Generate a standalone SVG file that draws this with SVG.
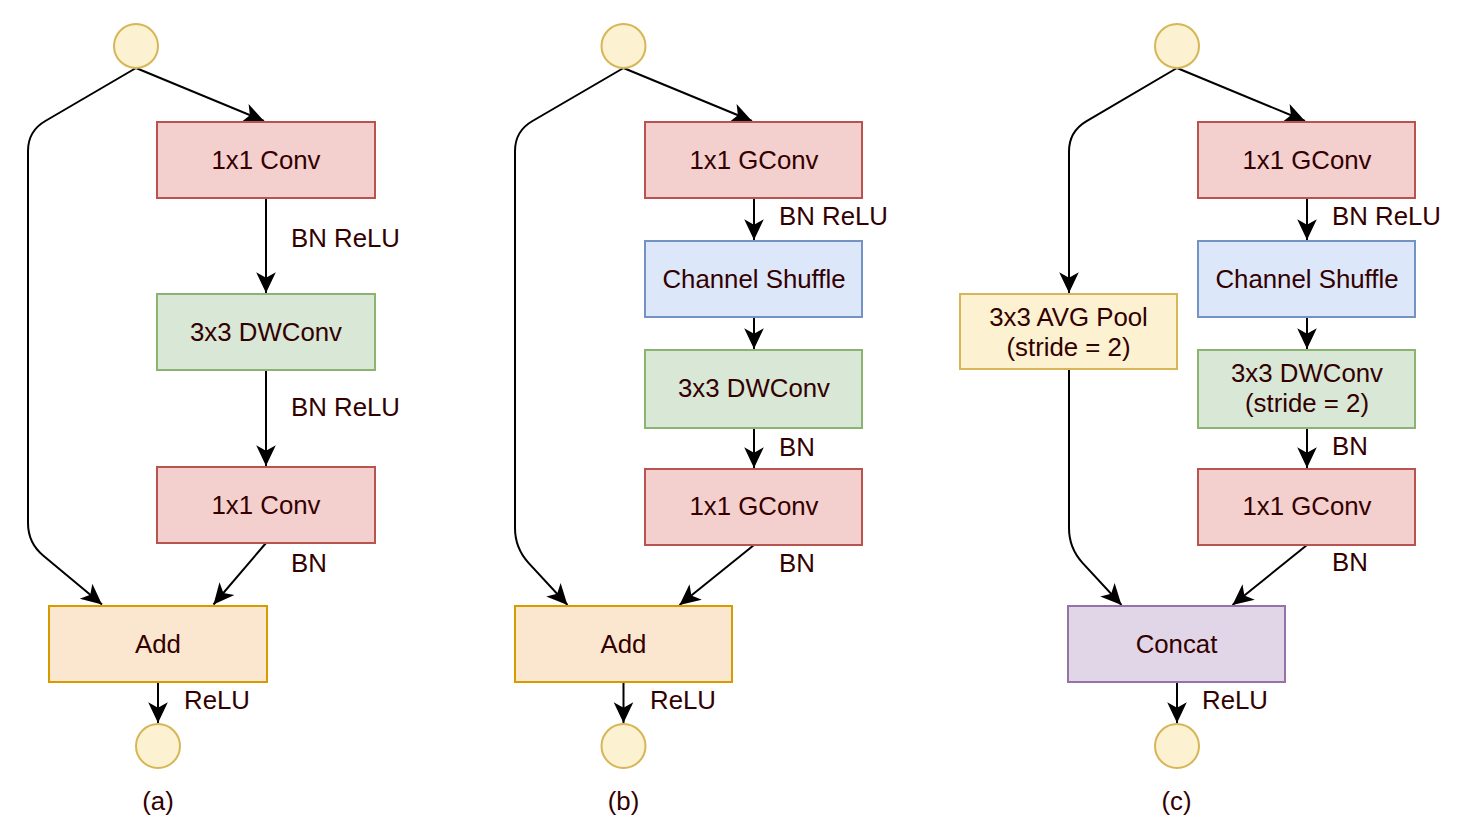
<svg xmlns="http://www.w3.org/2000/svg" width="1470" height="828" viewBox="0 0 1470 828">
<style>
text{font-family:"Liberation Sans",Arial,Helvetica,sans-serif;font-size:25.8px;fill:#330000}
.c{text-anchor:middle}
.red{fill:#f3cfce;stroke:#b85450;stroke-width:2}
.grn{fill:#d8e7d6;stroke:#8ab46f;stroke-width:2}
.blu{fill:#dce7f9;stroke:#7592c4;stroke-width:2}
.org{fill:#fbe6cf;stroke:#d79b00;stroke-width:2}
.yel{fill:#fcf1d0;stroke:#d6b656;stroke-width:2}
.pur{fill:#e0d6e7;stroke:#9673a6;stroke-width:2}
.e{fill:none;stroke:#000;stroke-width:2;marker-end:url(#arr)}
</style>
<defs>
<marker id="arr" markerUnits="userSpaceOnUse" markerWidth="24" markerHeight="24" viewBox="-20 -10 22 20" refX="0" refY="0" orient="auto">
<path d="M0,0 L-19,-9 L-14,0 L-19,9 Z" fill="#000"/>
</marker>
</defs>
<g id="connectors">
<path class="e" d="M136,68 L264,121"/>
<path class="e" d="M136,68 L45.3,121 Q28,131 28,151 L28,523 Q28,543 43.4,555.7 L102,604.5"/>
<path class="e" d="M266,198 L266,293"/>
<path class="e" d="M266,370 L266,466"/>
<path class="e" d="M266,543 L213.5,604.5"/>
<path class="e" d="M158,682 L158,723"/>
<path class="e" d="M623.5,68 L752,121"/>
<path class="e" d="M623.5,68 L532.5,121 Q515,131 515,151 L515,528 Q515,548 528.5,562.8 L567.5,605"/>
<path class="e" d="M754,198 L754,240"/>
<path class="e" d="M754,317 L754,349"/>
<path class="e" d="M754,428 L754,468"/>
<path class="e" d="M754,545 L679.5,605"/>
<path class="e" d="M623.5,682 L623.5,723"/>
<path class="e" d="M1177,68 L1305,121"/>
<path class="e" d="M1177,68 L1086.2,121.3 Q1069,131.5 1069,151.5 L1069,293"/>
<path class="e" d="M1069,369 L1069,528 Q1069,548 1082.5,562.8 L1121.5,605"/>
<path class="e" d="M1307,198 L1307,240"/>
<path class="e" d="M1307,317 L1307,349"/>
<path class="e" d="M1307,428 L1307,468"/>
<path class="e" d="M1307,545 L1232.5,605"/>
<path class="e" d="M1177,682 L1177,723"/>
</g>
<g id="edge-labels">
<text x="291" y="247">BN ReLU</text>
<text x="291" y="416">BN ReLU</text>
<text x="291" y="572">BN</text>
<text x="184" y="709">ReLU</text>
<text x="779" y="225">BN ReLU</text>
<text x="779" y="456">BN</text>
<text x="779" y="572">BN</text>
<text x="650" y="709">ReLU</text>
<text x="1332" y="225">BN ReLU</text>
<text x="1332" y="455">BN</text>
<text x="1332" y="571">BN</text>
<text x="1202" y="709">ReLU</text>
</g>
<g id="a-in"><circle class="yel" cx="136" cy="46" r="22"/></g>
<g id="a-conv1"><rect class="red" x="157" y="122" width="218" height="76"/><text class="c" x="266" y="169">1x1 Conv</text></g>
<g id="a-dwconv"><rect class="grn" x="157" y="294" width="218" height="76"/><text class="c" x="266" y="341">3x3 DWConv</text></g>
<g id="a-conv2"><rect class="red" x="157" y="467" width="218" height="76"/><text class="c" x="266" y="514">1x1 Conv</text></g>
<g id="a-add"><rect class="org" x="49" y="606" width="218" height="76"/><text class="c" x="158" y="653">Add</text></g>
<g id="a-out"><circle class="yel" cx="158" cy="746" r="22"/></g>
<g id="a-label"><text class="c" x="158" y="810">(a)</text></g>
<g id="b-in"><circle class="yel" cx="623.5" cy="46" r="22"/></g>
<g id="b-gconv1"><rect class="red" x="645" y="122" width="217" height="76"/><text class="c" x="754" y="169">1x1 GConv</text></g>
<g id="b-shuffle"><rect class="blu" x="645" y="241" width="217" height="76"/><text class="c" x="754" y="288">Channel Shuffle</text></g>
<g id="b-dwconv"><rect class="grn" x="645" y="350" width="217" height="78"/><text class="c" x="754" y="397">3x3 DWConv</text></g>
<g id="b-gconv2"><rect class="red" x="645" y="469" width="217" height="76"/><text class="c" x="754" y="515">1x1 GConv</text></g>
<g id="b-add"><rect class="org" x="515" y="606" width="217" height="76"/><text class="c" x="623.5" y="653">Add</text></g>
<g id="b-out"><circle class="yel" cx="623.5" cy="746" r="22"/></g>
<g id="b-label"><text class="c" x="623.5" y="810">(b)</text></g>
<g id="c-in"><circle class="yel" cx="1177" cy="46" r="22"/></g>
<g id="c-gconv1"><rect class="red" x="1198" y="122" width="217" height="76"/><text class="c" x="1307" y="169">1x1 GConv</text></g>
<g id="c-shuffle"><rect class="blu" x="1198" y="241" width="217" height="76"/><text class="c" x="1307" y="288">Channel Shuffle</text></g>
<g id="c-dwconv"><rect class="grn" x="1198" y="350" width="217" height="78"/><text class="c" x="1307" y="381.5">3x3 DWConv</text><text class="c" x="1307" y="412">(stride = 2)</text></g>
<g id="c-gconv2"><rect class="red" x="1198" y="469" width="217" height="76"/><text class="c" x="1307" y="515">1x1 GConv</text></g>
<g id="c-pool"><rect class="yel" x="960" y="294" width="217" height="75"/><text class="c" x="1068.5" y="325.5">3x3 AVG Pool</text><text class="c" x="1068.5" y="356">(stride = 2)</text></g>
<g id="c-concat"><rect class="pur" x="1068" y="606" width="217" height="76"/><text class="c" x="1176.5" y="653">Concat</text></g>
<g id="c-out"><circle class="yel" cx="1177" cy="746" r="22"/></g>
<g id="c-label"><text class="c" x="1176.5" y="810">(c)</text></g>
</svg>
